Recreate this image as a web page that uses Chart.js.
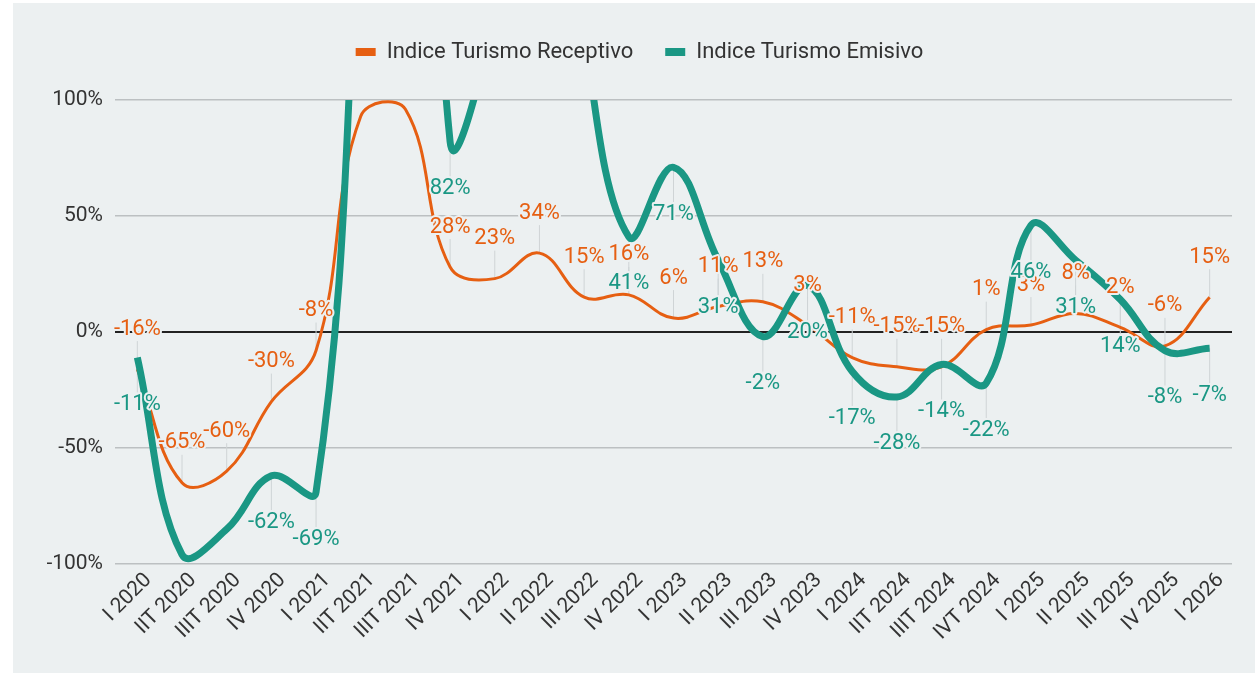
<!DOCTYPE html>
<html>
<head>
<meta charset="utf-8">
<script src="https://cdn.jsdelivr.net/npm/chart.js@4.4.1/dist/chart.umd.min.js"></script>
<style>
  html, body { margin: 0; padding: 0; background: #ffffff; }
  #wrap { position: absolute; left: 13px; top: 3px; width: 1242px; height: 670px; background: #ecf0f1; }
</style>
</head>
<body>
<div id="wrap"><canvas id="tourismChart" width="1242" height="670"></canvas></div>
<script>
const quarters = [
    "I 2020", "IIT 2020", "IIIT 2020", "IV 2020",
    "I 2021", "IIT 2021", "IIIT 2021", "IV 2021",
    "I 2022", "II 2022", "III 2022", "IV 2022",
    "I 2023", "II 2023", "III 2023", "IV 2023",
    "I 2024", "IIT 2024", "IIIT 2024", "IVT 2024",
    "I 2025", "II 2025", "III 2025", "IV 2025",
    "I 2026",
];

// variacion interanual (%)
const receptivo = [
    -16, -65, -60, -30, -8, 93, 96, 28, 23, 34, 15, 16, 6, 11, 13, 3,
    -11, -15, -15, 1, 3, 8, 2, -6, 15,
];
const emisivo = [
    -11, -96, -85, -62, -69, 200, 520, 82, 140, 300, 130, 41, 71, 31, -2, 20,
    -17, -28, -14, -22, 46, 31, 14, -8, -7,
];

const yTicks = [-100, -50, 0, 50, 100];

const orange = "#e65f12";
const teal = "#1a9784";
const bg = "#ecf0f1";

// etiquetas de valor con linea guia
const valueLabels = {
    id: "valueLabels",
    beforeDatasetsDraw(chart) {
        const ctx = chart.ctx;
        const area = chart.chartArea;
        ctx.save();
        ctx.beginPath();
        ctx.rect(area.left, area.top, area.right - area.left, area.bottom - area.top);
        ctx.clip();
        ctx.strokeStyle = "#cfd4d6";
        ctx.lineWidth = 1;
        eachLabel(chart, (p, ly, above) => {
            ctx.beginPath();
            if (above) {
                ctx.moveTo(p.x, ly + 12);
                ctx.lineTo(p.x, p.y);
            } else {
                ctx.moveTo(p.x, p.y);
                ctx.lineTo(p.x, ly - 12);
            }
            ctx.stroke();
        });
        ctx.restore();
    },
    afterDatasetsDraw(chart) {
        const ctx = chart.ctx;
        ctx.save();
        ctx.font = "22px Roboto";
        ctx.textAlign = "center";
        ctx.textBaseline = "middle";
        ctx.lineJoin = "round";
        eachLabel(chart, (p, ly, above, value, color) => {
            const txt = Math.round(value) + "%";
            ctx.strokeStyle = bg;
            ctx.lineWidth = 4;
            ctx.strokeText(txt, p.x, ly);
            ctx.fillStyle = color;
            ctx.fillText(txt, p.x, ly);
        });
        ctx.restore();
    },
};

function eachLabel(chart, fn) {
    const area = chart.chartArea;
    chart.data.datasets.forEach((ds, i) => {
        const meta = chart.getDatasetMeta(i);
        const above = i === 0;
        meta.data.forEach((p, j) => {
            const ly = above ? p.y - 40 : p.y + 47;
            if (p.y < area.top || p.y > area.bottom) return;
            if (ly - 10 < area.top || ly + 10 > area.bottom) return;
            fn(p, ly, above, ds.data[j], ds.borderColor);
        });
    });
}

const legendGap = {
    id: "legendGap",
    beforeInit(chart) {
        const fit = chart.legend.fit;
        chart.legend.fit = function () {
            fit.bind(chart.legend)();
            this.height += 27;
        };
    },
};

new Chart(document.getElementById("tourismChart"), {
    type: "line",
    data: {
        labels: quarters,
        datasets: [
            {
                label: "Indice Turismo Receptivo",
                data: receptivo,
                borderColor: orange,
                backgroundColor: orange,
                borderWidth: 3,
                order: 1,
            },
            {
                label: "Indice Turismo Emisivo",
                data: emisivo,
                borderColor: teal,
                backgroundColor: teal,
                borderWidth: 7,
                order: 0,
            },
        ],
    },
    options: {
        responsive: false,
        animation: false,
        events: [],
        layout: { padding: { top: 6, right: 23, left: 34, bottom: 0 } },
        elements: {
            point: { radius: 0 },
            line: { tension: 0.4, capBezierPoints: false, borderJoinStyle: "round", borderCapStyle: "butt" },
        },
        plugins: {
            tooltip: { enabled: false },
            legend: {
                position: "top",
                labels: {
                    color: "#333",
                    font: { family: "Roboto", size: 22 },
                    boxWidth: 20,
                    boxHeight: 8,
                    padding: 32,
                    sort: (a, b) => a.datasetIndex - b.datasetIndex,
                    generateLabels(chart) {
                        const items = Chart.defaults.plugins.legend.labels.generateLabels(chart);
                        items.forEach((it) => { it.lineWidth = 0; });
                        return items;
                    },
                },
            },
        },
        scales: {
            x: {
                offset: true,
                grid: { display: false },
                border: { display: false },
                afterFit(axis) { axis.height = 109; },
                ticks: {
                    autoSkip: false,
                    minRotation: 45,
                    maxRotation: 45,
                    color: "#333",
                    padding: -4,
                    labelOffset: 11,
                    font: { family: "Roboto", size: 21 },
                },
            },
            y: {
                min: -100,
                max: 100,
                afterFit(axis) { axis.width = 68; },
                afterBuildTicks(axis) { axis.ticks = yTicks.map((v) => ({ value: v })); },
                border: { display: false },
                grid: {
                    drawTicks: false,
                    lineWidth: (c) => (c.tick && c.tick.value === 0 ? 2 : 1.5),
                    color: (c) => (c.tick && c.tick.value === 0 ? "#222" : "#bcc0c2"),
                },
                ticks: {
                    color: "#333",
                    padding: 12,
                    font: { family: "Roboto", size: 21 },
                    callback: (v) => v + "%",
                },
            },
        },
    },
    plugins: [valueLabels, legendGap],
});
</script>
</body>
</html>
